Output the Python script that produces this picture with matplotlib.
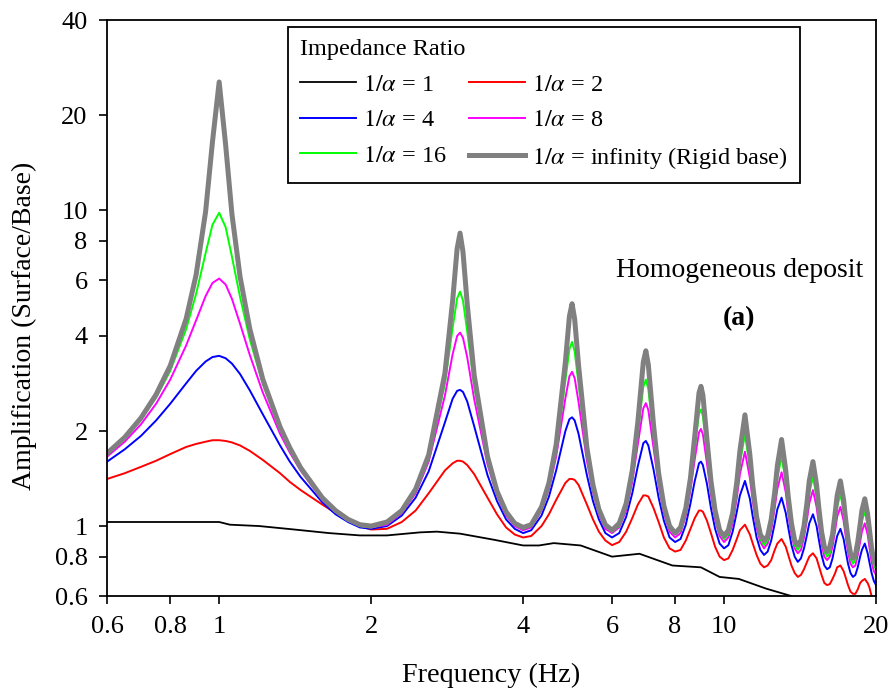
import matplotlib
matplotlib.use("Agg")
import matplotlib.pyplot as plt

plt.rcParams['font.family'] = 'Liberation Serif'
plt.rcParams['mathtext.fontset'] = 'stix'

# frecuencias comunes a las curvas de razon de impedancia (Hz)
freq = [0.6, 0.65, 0.7, 0.75, 0.8, 0.86, 0.9, 0.94, 0.97, 1.0, 1.03, 1.06, 1.1, 1.15, 1.22, 1.32, 1.38, 1.45,
        1.6, 1.7, 1.8, 1.9, 2.0,
        2.15, 2.3, 2.45, 2.6, 2.8, 2.9, 2.96, 3.0, 3.04, 3.1, 3.2, 3.4, 3.55, 3.7, 3.85, 4.0,
        4.15, 4.35, 4.5, 4.65, 4.85, 4.94, 5.0, 5.06, 5.15, 5.35, 5.5, 5.65, 5.82, 6.0,
        6.2, 6.4, 6.58, 6.75, 6.92, 7.0, 7.08, 7.25, 7.42, 7.6, 7.8, 8.0,
        8.2, 8.4, 8.58, 8.75, 8.92, 9.0, 9.08, 9.25, 9.42, 9.6, 9.8, 10.0,
        10.2, 10.4, 10.6, 10.75, 11.0, 11.25, 11.4, 11.6, 11.8, 12.0,
        12.2, 12.4, 12.6, 12.75, 13.0, 13.25, 13.4, 13.6, 13.8, 14.0,
        14.2, 14.4, 14.6, 14.75, 15.0, 15.25, 15.4, 15.6, 15.8, 16.0,
        16.2, 16.4, 16.6, 16.75, 17.0, 17.25, 17.4, 17.6, 17.8, 18.0,
        18.2, 18.4, 18.6, 18.75, 19.0, 19.25, 19.4, 19.6, 19.8, 20.0]

amp_2 = [1.41, 1.47, 1.54, 1.61, 1.69, 1.78, 1.82, 1.85, 1.87, 1.87, 1.86, 1.84, 1.80, 1.73, 1.62, 1.47, 1.38, 1.30,
         1.17, 1.10, 1.04, 1.00, 0.975,
         0.98, 1.03, 1.12, 1.27, 1.50, 1.58, 1.61, 1.61, 1.60, 1.56, 1.46, 1.23, 1.09, 0.99, 0.94, 0.92,
         0.93, 1.00, 1.09, 1.21, 1.37, 1.41, 1.41, 1.40, 1.35, 1.17, 1.05, 0.96, 0.90, 0.87,
         0.89, 0.96, 1.06, 1.17, 1.25, 1.25, 1.24, 1.14, 1.03, 0.92, 0.85, 0.83,
         0.84, 0.90, 0.98, 1.06, 1.12, 1.12, 1.11, 1.04, 0.95, 0.86, 0.80, 0.78,
         0.79, 0.84, 0.91, 0.97, 1.01, 0.94, 0.88, 0.81, 0.76, 0.74,
         0.75, 0.78, 0.84, 0.88, 0.91, 0.86, 0.81, 0.75, 0.71, 0.69,
         0.70, 0.73, 0.77, 0.80, 0.82, 0.79, 0.75, 0.70, 0.66, 0.65,
         0.655, 0.68, 0.71, 0.74, 0.75, 0.72, 0.69, 0.65, 0.62, 0.61,
         0.61, 0.63, 0.66, 0.67, 0.68, 0.66, 0.64, 0.60, 0.58, 0.57]

amp_4 = [1.60, 1.75, 1.93, 2.16, 2.44, 2.83, 3.10, 3.32, 3.43, 3.46, 3.40, 3.27, 3.03, 2.69, 2.26, 1.80, 1.60, 1.43,
         1.19, 1.09, 1.03, 0.99, 0.98,
         1.00, 1.08, 1.23, 1.49, 2.13, 2.53, 2.68, 2.70, 2.66, 2.48, 2.07, 1.45, 1.20, 1.05, 0.98, 0.95,
         0.97, 1.08, 1.24, 1.50, 2.00, 2.18, 2.21, 2.16, 1.96, 1.45, 1.20, 1.05, 0.95, 0.92,
         0.95, 1.07, 1.27, 1.55, 1.83, 1.86, 1.80, 1.51, 1.23, 1.04, 0.92, 0.89,
         0.91, 1.01, 1.18, 1.39, 1.58, 1.60, 1.56, 1.36, 1.14, 0.98, 0.88, 0.85,
         0.87, 0.96, 1.11, 1.25, 1.39, 1.22, 1.07, 0.92, 0.84, 0.81,
         0.83, 0.90, 1.02, 1.13, 1.23, 1.10, 0.99, 0.87, 0.80, 0.77,
         0.79, 0.85, 0.94, 1.02, 1.09, 1.00, 0.91, 0.81, 0.75, 0.73,
         0.74, 0.79, 0.87, 0.93, 0.98, 0.91, 0.84, 0.76, 0.71, 0.69,
         0.70, 0.74, 0.80, 0.84, 0.88, 0.82, 0.77, 0.71, 0.67, 0.65]

amp_8 = [1.66, 1.85, 2.10, 2.44, 2.91, 3.73, 4.48, 5.35, 5.89, 6.08, 5.82, 5.24, 4.37, 3.48, 2.65, 1.96, 1.71, 1.50,
         1.21, 1.11, 1.04, 1.00, 0.99,
         1.01, 1.10, 1.27, 1.60, 2.59, 3.50, 4.00, 4.10, 3.95, 3.42, 2.52, 1.57, 1.25, 1.08, 1.00, 0.97,
         0.99, 1.12, 1.31, 1.66, 2.54, 2.98, 3.08, 2.94, 2.47, 1.61, 1.28, 1.09, 0.98, 0.95,
         0.99, 1.12, 1.38, 1.82, 2.36, 2.45, 2.33, 1.77, 1.35, 1.10, 0.96, 0.92,
         0.95, 1.08, 1.30, 1.63, 1.98, 2.03, 1.95, 1.58, 1.26, 1.05, 0.93, 0.89,
         0.92, 1.02, 1.23, 1.46, 1.72, 1.42, 1.20, 0.99, 0.89, 0.85,
         0.88, 0.97, 1.14, 1.31, 1.48, 1.28, 1.10, 0.94, 0.85, 0.82,
         0.84, 0.92, 1.05, 1.18, 1.30, 1.15, 1.02, 0.88, 0.80, 0.78,
         0.80, 0.86, 0.97, 1.07, 1.15, 1.04, 0.94, 0.83, 0.76, 0.74,
         0.75, 0.81, 0.89, 0.96, 1.02, 0.94, 0.86, 0.77, 0.72, 0.70]

amp_16 = [1.69, 1.89, 2.17, 2.55, 3.10, 4.20, 5.43, 7.32, 9.01, 9.82, 8.84, 7.13, 5.31, 3.90, 2.82, 2.03, 1.75, 1.52,
          1.22, 1.11, 1.04, 1.00, 0.99,
          1.02, 1.11, 1.29, 1.64, 2.83, 4.24, 5.26, 5.53, 5.18, 4.13, 2.77, 1.62, 1.27, 1.10, 1.01, 0.98,
          1.00, 1.13, 1.34, 1.73, 2.89, 3.63, 3.83, 3.57, 2.82, 1.70, 1.32, 1.11, 1.00, 0.96,
          1.00, 1.15, 1.44, 1.97, 2.76, 2.91, 2.71, 1.92, 1.41, 1.13, 0.98, 0.94,
          0.97, 1.11, 1.36, 1.77, 2.26, 2.34, 2.23, 1.72, 1.32, 1.08, 0.95, 0.91,
          0.94, 1.06, 1.30, 1.58, 1.95, 1.54, 1.26, 1.03, 0.91, 0.87,
          0.90, 1.01, 1.21, 1.42, 1.66, 1.38, 1.17, 0.98, 0.87, 0.84,
          0.87, 0.95, 1.12, 1.27, 1.43, 1.24, 1.08, 0.92, 0.83, 0.80,
          0.82, 0.90, 1.03, 1.15, 1.26, 1.12, 1.00, 0.87, 0.79, 0.76,
          0.78, 0.84, 0.95, 1.04, 1.11, 1.01, 0.92, 0.81, 0.75, 0.73]

amp_rigid = [1.70, 1.91, 2.20, 2.61, 3.22, 4.53, 6.24, 9.90, 16.5, 25.5, 16.1, 9.72, 6.16, 4.21, 2.92, 2.06, 1.77, 1.53,
             1.23, 1.12, 1.05, 1.01, 1.00,
             1.03, 1.12, 1.31, 1.68, 3.05, 5.16, 7.56, 8.47, 7.40, 5.04, 3.00, 1.66, 1.29, 1.11, 1.02, 0.99,
             1.01, 1.15, 1.37, 1.81, 3.31, 4.62, 5.06, 4.52, 3.23, 1.77, 1.35, 1.13, 1.01, 0.97,
             1.02, 1.18, 1.50, 2.14, 3.31, 3.59, 3.24, 2.09, 1.47, 1.16, 1.00, 0.95,
             0.99, 1.14, 1.42, 1.93, 2.64, 2.77, 2.60, 1.88, 1.39, 1.12, 0.97, 0.93,
             0.97, 1.10, 1.38, 1.73, 2.25, 1.68, 1.34, 1.07, 0.94, 0.90,
             0.93, 1.05, 1.28, 1.55, 1.88, 1.50, 1.24, 1.02, 0.90, 0.87,
             0.90, 1.00, 1.19, 1.39, 1.60, 1.35, 1.15, 0.96, 0.86, 0.83,
             0.86, 0.94, 1.10, 1.25, 1.39, 1.21, 1.06, 0.91, 0.82, 0.79,
             0.81, 0.89, 1.01, 1.12, 1.22, 1.09, 0.98, 0.85, 0.78, 0.76]

# curva 1/alpha = 1 (tiene su propio muestreo)
freq_1 = [0.6, 1.0, 1.05, 1.2, 1.4, 1.65, 1.9, 2.15, 2.5, 2.7, 3.0, 3.5, 4.0, 4.3, 4.6, 5.2,
          6.0, 6.8, 7.9, 9.0, 9.8, 10.7, 12.1, 13.6]
amp_1 = [1.03, 1.03, 1.01, 1.00, 0.976, 0.95, 0.934, 0.934, 0.955, 0.96, 0.946, 0.905, 0.868, 0.868,
         0.883, 0.868, 0.80, 0.817, 0.75, 0.74, 0.69, 0.68, 0.634, 0.60]

xticks = [0.6, 0.8, 1, 2, 4, 6, 8, 10, 20]
yticks = [0.6, 0.8, 1, 2, 4, 6, 8, 10, 20, 40]

fig = plt.figure(figsize=(8.93, 6.98), dpi=100)
ax = fig.add_axes([0.120, 0.146, 0.861, 0.825])

l1, = ax.plot(freq_1, amp_1, color='black', lw=1.3)
l2, = ax.plot(freq, amp_2, color='#ff0000', lw=1.4)
l4, = ax.plot(freq, amp_4, color='#0000ff', lw=1.4)
l8, = ax.plot(freq, amp_8, color='#ff00ff', lw=1.4)
l16, = ax.plot(freq, amp_16, color='#00ff00', lw=1.4)
lr, = ax.plot(freq, amp_rigid, color='#808080', lw=3.6)

ax.set_xscale('log')
ax.set_yscale('log')
ax.set_xlim(0.6, 20)
ax.set_ylim(0.6, 40)
ax.xaxis.set_major_locator(plt.FixedLocator(xticks))
ax.xaxis.set_major_formatter(plt.FixedFormatter([str(t) for t in xticks]))
ax.xaxis.set_minor_locator(plt.NullLocator())
ax.yaxis.set_major_locator(plt.FixedLocator(yticks))
ax.yaxis.set_major_formatter(plt.FixedFormatter([str(t) for t in yticks]))
ax.yaxis.set_minor_locator(plt.NullLocator())
ax.tick_params(direction='out', length=6, width=1.2, labelsize=19, pad=8)
for s in ax.spines.values():
    s.set_linewidth(1.3)

ax.set_xlabel('Frequency (Hz)', fontsize=20.3)
ax.set_ylabel('Amplification (Surface/Base)', fontsize=20)
ax.xaxis.set_label_coords(0.5, -0.116)
ax.yaxis.set_label_coords(-0.091, 0.470)

ax.text(0.822, 0.565, 'Homogeneous deposit', transform=ax.transAxes, fontsize=20,
        ha='center', va='center')
ax.text(0.822, 0.482, '(a)', transform=ax.transAxes, fontsize=20, fontweight='bold',
        ha='center', va='center')

# orden por columnas para que las filas queden como en la figura original
handles = [l1, l4, l16, l2, l8, lr]
labels = [r'$\mathit{1/}\alpha$ = 1', r'$\mathit{1/}\alpha$ = 4', r'$\mathit{1/}\alpha$ = 16',
          r'$\mathit{1/}\alpha$ = 2', r'$\mathit{1/}\alpha$ = 8',
          r'$\mathit{1/}\alpha$ = infinity (Rigid base)']
leg = ax.legend(handles, labels, ncol=2, title='Impedance Ratio', loc='upper left',
                bbox_to_anchor=(0.2354, 0.9878), borderaxespad=0, fontsize=17.5,
                title_fontsize=17.5, alignment='left', fancybox=False, framealpha=1,
                edgecolor='black', handlelength=2.3, handletextpad=0.3,
                columnspacing=0.9, labelspacing=0.55, borderpad=0.5)
leg.get_frame().set_linewidth(1.3)

fig.savefig('out.png', dpi=100)
